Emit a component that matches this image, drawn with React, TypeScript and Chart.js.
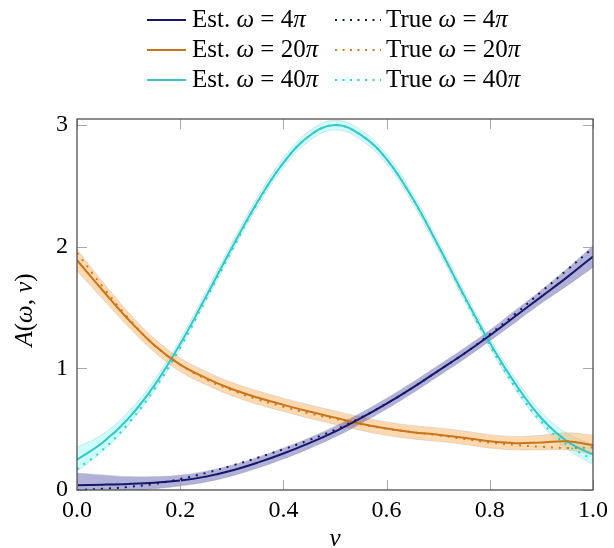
import React, { useEffect, useRef } from 'react';
import { Chart, registerables } from 'chart.js';

Chart.register(...registerables);

// ---------- data ----------
const vGrid = [0, 0.05, 0.1, 0.15, 0.2, 0.25, 0.3, 0.35, 0.4, 0.45, 0.5, 0.55, 0.6, 0.65, 0.7, 0.75, 0.8, 0.85, 0.9, 0.95, 1.0];

const est4 = [0.04, 0.044, 0.05, 0.06, 0.078, 0.11, 0.16, 0.225, 0.3, 0.385, 0.48, 0.59, 0.71, 0.84, 0.98, 1.12, 1.27, 1.43, 1.59, 1.75, 1.92];
const true4 = [0.0, 0.01, 0.025, 0.05, 0.09, 0.14, 0.2, 0.265, 0.335, 0.41, 0.495, 0.595, 0.71, 0.84, 0.98, 1.12, 1.28, 1.45, 1.63, 1.81, 1.99];
const sd4 = [0.1, 0.08, 0.06, 0.05, 0.045, 0.045, 0.045, 0.045, 0.045, 0.045, 0.045, 0.045, 0.045, 0.045, 0.045, 0.045, 0.045, 0.05, 0.055, 0.07, 0.09];

const est20 = [1.89, 1.64, 1.4, 1.19, 1.03, 0.92, 0.83, 0.76, 0.7, 0.645, 0.595, 0.545, 0.505, 0.475, 0.455, 0.43, 0.4, 0.385, 0.39, 0.4, 0.37];
const true20 = [1.95, 1.67, 1.41, 1.19, 1.03, 0.91, 0.82, 0.745, 0.685, 0.63, 0.585, 0.54, 0.505, 0.475, 0.45, 0.42, 0.39, 0.37, 0.355, 0.345, 0.35];
const sd20 = [0.09, 0.07, 0.06, 0.055, 0.055, 0.055, 0.055, 0.055, 0.055, 0.055, 0.055, 0.055, 0.055, 0.055, 0.055, 0.055, 0.055, 0.055, 0.06, 0.07, 0.08];

const est40 = [0.25, 0.39, 0.59, 0.86, 1.2, 1.59, 1.99, 2.37, 2.69, 2.91, 3.0, 2.92, 2.72, 2.4, 2.01, 1.6, 1.21, 0.87, 0.59, 0.4, 0.29];
const true40 = [0.17, 0.33, 0.55, 0.83, 1.17, 1.57, 1.97, 2.36, 2.69, 2.91, 3.0, 2.92, 2.72, 2.4, 2.01, 1.59, 1.19, 0.84, 0.56, 0.37, 0.25];
const sd40 = [0.1, 0.07, 0.055, 0.045, 0.04, 0.04, 0.04, 0.04, 0.04, 0.04, 0.04, 0.04, 0.04, 0.04, 0.04, 0.04, 0.04, 0.045, 0.05, 0.065, 0.08];

const xTicks = [0, 0.2, 0.4, 0.6, 0.8, 1.0];
const yTicks = [0, 1, 2, 3];

const NAVY = '#16166b';
const NAVY_T = '#16166b';
const ORANGE = '#c8741a';
const ORANGE_T = '#d07a1e';
const CYAN = '#36c6c6';
const CYAN_T = '#14dcdc';

const FONT = '"Liberation Serif", "DejaVu Serif", serif';

type Seg = { t: string; i?: boolean };

const legendRows: { est: Seg[]; tru: Seg[]; c: string; ct: string }[] = [
  { est: [{ t: 'Est. ' }, { t: 'ω', i: true }, { t: ' = 4' }, { t: 'π', i: true }], tru: [{ t: 'True ' }, { t: 'ω', i: true }, { t: ' = 4' }, { t: 'π', i: true }], c: NAVY, ct: NAVY_T },
  { est: [{ t: 'Est. ' }, { t: 'ω', i: true }, { t: ' = 20' }, { t: 'π', i: true }], tru: [{ t: 'True ' }, { t: 'ω', i: true }, { t: ' = 20' }, { t: 'π', i: true }], c: ORANGE, ct: ORANGE_T },
  { est: [{ t: 'Est. ' }, { t: 'ω', i: true }, { t: ' = 40' }, { t: 'π', i: true }], tru: [{ t: 'True ' }, { t: 'ω', i: true }, { t: ' = 40' }, { t: 'π', i: true }], c: CYAN, ct: CYAN_T },
];

const yTitle: Seg[] = [{ t: 'A', i: true }, { t: '(' }, { t: 'ω', i: true }, { t: ', ' }, { t: 'v', i: true }, { t: ')' }];
const xTitle: Seg[] = [{ t: 'v', i: true }];

function setFont(ctx: CanvasRenderingContext2D, s: Seg, size: number) {
  ctx.font = `${s.i ? 'italic ' : ''}${size}px ${FONT}`;
}

function drawRich(ctx: CanvasRenderingContext2D, segs: Seg[], x: number, y: number, size: number, align: 'left' | 'center') {
  let total = 0;
  const widths = segs.map((s) => {
    setFont(ctx, s, size);
    const w = ctx.measureText(s.t).width;
    total += w;
    return w;
  });
  let cx = align === 'center' ? x - total / 2 : x;
  ctx.textAlign = 'left';
  ctx.textBaseline = 'alphabetic';
  segs.forEach((s, k) => {
    setFont(ctx, s, size);
    ctx.fillText(s.t, cx, y);
    cx += widths[k];
  });
}

const pts = (arr: number[]) => arr.map((y, k) => ({ x: vGrid[k], y }));
const upper = (a: number[], s: number[]) => a.map((y, k) => ({ x: vGrid[k], y: y + s[k] }));
const lower = (a: number[], s: number[]) => a.map((y, k) => ({ x: vGrid[k], y: y - s[k] }));

const decorPlugin = {
  id: 'decor',
  afterDraw(chart: any) {
    const { ctx, chartArea: a, scales } = chart;
    ctx.save();
    // inward ticks
    ctx.strokeStyle = '#a8a8a8';
    ctx.lineWidth = 1;
    const TL = 10;
    xTicks.forEach((v) => {
      const px = Math.round(scales.x.getPixelForValue(v)) + 0.5;
      ctx.beginPath();
      ctx.moveTo(px, a.bottom);
      ctx.lineTo(px, a.bottom - TL);
      ctx.moveTo(px, a.top);
      ctx.lineTo(px, a.top + TL);
      ctx.stroke();
    });
    yTicks.forEach((v) => {
      const py = Math.round(scales.y.getPixelForValue(v)) + 0.5;
      ctx.beginPath();
      ctx.moveTo(a.left, py);
      ctx.lineTo(a.left + TL, py);
      ctx.moveTo(a.right, py);
      ctx.lineTo(a.right - TL, py);
      ctx.stroke();
    });
    // frame
    ctx.strokeStyle = '#505050';
    ctx.lineWidth = 1.3;
    ctx.strokeRect(a.left, a.top, a.right - a.left, a.bottom - a.top);

    // legend
    ctx.fillStyle = '#000';
    legendRows.forEach((r, k) => {
      const ly = 20 + 30 * k;
      ctx.setLineDash([]);
      ctx.strokeStyle = r.c;
      ctx.lineWidth = 2;
      ctx.beginPath();
      ctx.moveTo(147, ly);
      ctx.lineTo(186, ly);
      ctx.stroke();
      drawRich(ctx, r.est, 192, ly + 7, 25, 'left');
      ctx.setLineDash([2, 5.5]);
      ctx.strokeStyle = r.ct;
      ctx.beginPath();
      ctx.moveTo(335, ly);
      ctx.lineTo(381, ly);
      ctx.stroke();
      ctx.setLineDash([]);
      drawRich(ctx, r.tru, 386, ly + 7, 25, 'left');
    });

    // axis titles
    drawRich(ctx, xTitle, (a.left + a.right) / 2, 546, 25, 'center');
    ctx.save();
    ctx.translate(32, 310);
    ctx.rotate(-Math.PI / 2);
    drawRich(ctx, yTitle, 0, 0, 25, 'center');
    ctx.restore();
    ctx.restore();
  },
};

function bandSets(est: number[], sd: number[], fillColor: string) {
  const edge = 'rgba(190,190,190,0.45)';
  return [
    { data: upper(est, sd), borderColor: edge, borderWidth: 1, backgroundColor: fillColor, fill: '+1', pointRadius: 0, tension: 0.4 },
    { data: lower(est, sd), borderColor: edge, borderWidth: 1, backgroundColor: fillColor, fill: false, pointRadius: 0, tension: 0.4 },
  ];
}

function lineSet(data: number[], color: string, dotted: boolean) {
  return {
    data: pts(data),
    borderColor: color,
    borderWidth: 2,
    borderDash: dotted ? [2, 6] : [],
    fill: false,
    pointRadius: 0,
    tension: 0.4,
  };
}

export default function App() {
  const ref = useRef<HTMLCanvasElement>(null);
  useEffect(() => {
    if (!ref.current) return;
    const chart = new Chart(ref.current, {
      type: 'line',
      data: {
        datasets: [
          lineSet(est4, NAVY, false),
          lineSet(true4, NAVY_T, true),
          lineSet(est20, ORANGE, false),
          lineSet(true20, ORANGE_T, true),
          lineSet(est40, CYAN, false),
          lineSet(true40, CYAN_T, true),
          ...bandSets(est4, sd4, 'rgba(50,50,150,0.38)'),
          ...bandSets(est20, sd20, 'rgba(252,170,80,0.45)'),
          ...bandSets(est40, sd40, 'rgba(130,250,250,0.40)'),
        ] as any,
      },
      options: {
        animation: false,
        responsive: false,
        layout: { padding: { top: 119, right: 17, left: 0, bottom: 0 } },
        plugins: { legend: { display: false }, tooltip: { enabled: false } },
        scales: {
          x: {
            type: 'linear',
            min: 0,
            max: 1,
            afterBuildTicks: (axis: any) => {
              axis.ticks = xTicks.map((value) => ({ value }));
            },
            afterFit: (s: any) => {
              s.height = 58;
            },
            grid: { display: false, drawTicks: false },
            border: { display: false },
            ticks: {
              autoSkip: false,
              maxRotation: 0,
              padding: 6,
              color: '#000',
              font: { family: FONT, size: 24 },
              callback: (v: any) => Number(v).toFixed(1),
            },
          },
          y: {
            type: 'linear',
            min: 0,
            max: 3.05,
            afterBuildTicks: (axis: any) => {
              axis.ticks = yTicks.map((value) => ({ value }));
            },
            afterFit: (s: any) => {
              s.width = 77;
            },
            grid: { display: false, drawTicks: false },
            border: { display: false },
            ticks: {
              autoSkip: false,
              padding: 9,
              color: '#000',
              font: { family: FONT, size: 24 },
              callback: (v: any) => String(v),
            },
          },
        },
      } as any,
      plugins: [decorPlugin],
    });
    return () => chart.destroy();
  }, []);
  return (
    <div style={{ position: 'absolute', left: 0, top: 0, width: 614, height: 548, background: '#fff' }}>
      <canvas ref={ref} width={614} height={548} style={{ display: 'block' }} />
    </div>
  );
}
